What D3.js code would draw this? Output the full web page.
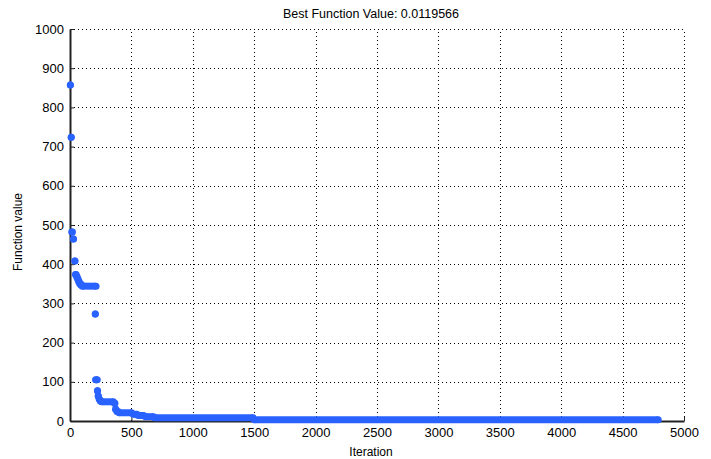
<!DOCTYPE html>
<html>
<head>
<meta charset="utf-8">
<script src="https://cdn.jsdelivr.net/npm/d3@7"></script>
<style>
  body { margin: 0; background: #fff; }
  text { font-family: "Liberation Sans", Arial, sans-serif; fill: #000; }
</style>
</head>
<body>
<div id="chart"></div>
<script>
// runs of iterations that share the same best value
var runStart = [3, 10, 14, 28, 40, 44, 54, 62, 70, 78, 88, 100, 206, 208, 224, 230, 238, 248, 258, 362, 372, 382, 400, 515, 556, 615, 690, 1500];
var runEnd   = [3, 10, 20, 28, 40, 50, 58, 66, 74, 84, 96, 212, 206, 222, 224, 230, 238, 248, 353, 366, 372, 392, 502, 545, 600, 680, 1490, 4790];
var runValue = [857, 724, 482, 464, 408, 374, 368, 362, 356, 351, 347, 344, 273, 105, 77, 64, 56, 51, 49, 45, 30, 24, 21, 17, 14, 11, 8.4, 3];

var xTicks = [0, 500, 1000, 1500, 2000, 2500, 3000, 3500, 4000, 4500, 5000];
var yTicks = [0, 100, 200, 300, 400, 500, 600, 700, 800, 900, 1000];
var titleText = "Best Function Value: 0.0119566";

var margin = { top: 29, right: 27, bottom: 38, left: 70 };
var width = 711 - margin.left - margin.right;
var height = 459 - margin.top - margin.bottom;

var svg = d3.select("#chart")
    .append("svg")
    .attr("width", 711)
    .attr("height", 459)
    .append("g")
    .attr("transform", "translate(" + margin.left + "," + margin.top + ")");

var x = d3.scaleLinear().domain([0, 5000]).range([0, width]);
var y = d3.scaleLinear().domain([0, 1000]).range([height, 0]);

// dotted grid
svg.append("g")
    .attr("class", "grid")
    .call(d3.axisLeft(y).tickValues(yTicks.slice(1)).tickSize(-width).tickFormat(""))
    .call(function (g) { g.select(".domain").remove(); });
svg.append("g")
    .attr("class", "grid")
    .attr("transform", "translate(0," + height + ")")
    .call(d3.axisBottom(x).tickValues(xTicks.slice(1)).tickSize(-height).tickFormat(""))
    .call(function (g) { g.select(".domain").remove(); });
svg.selectAll(".grid line")
    .attr("stroke", "#000")
    .attr("stroke-dasharray", "1,3")
    .attr("shape-rendering", "crispEdges");

// axes, ticks pointing inward
var fmt = d3.format("d");
var yAxis = svg.append("g")
    .call(d3.axisLeft(y).tickValues(yTicks).tickFormat(fmt).tickSizeInner(-4).tickSizeOuter(0).tickPadding(6));
var xAxis = svg.append("g")
    .attr("transform", "translate(0," + height + ")")
    .call(d3.axisBottom(x).tickValues(xTicks).tickFormat(fmt).tickSizeInner(-4).tickSizeOuter(0).tickPadding(7));

[xAxis, yAxis].forEach(function (a) {
    a.select(".domain").attr("stroke", "#222").attr("stroke-width", 2);
    a.selectAll(".tick line").attr("stroke", "#222");
    a.selectAll("text").style("font-size", "13px").attr("fill", "#111");
});

// points
var pts = svg.append("g");
var color = "#2962ff";
var r = 3.5;
runValue.forEach(function (v, i) {
    pts.append("line")
        .attr("x1", x(runStart[i]))
        .attr("x2", x(runEnd[i]))
        .attr("y1", y(v))
        .attr("y2", y(v))
        .attr("stroke", color)
        .attr("stroke-width", 2 * r);
    pts.append("circle").attr("cx", x(runStart[i])).attr("cy", y(v)).attr("r", r).attr("fill", color);
    pts.append("circle").attr("cx", x(runEnd[i])).attr("cy", y(v)).attr("r", r).attr("fill", color);
});

// titles
svg.append("text")
    .attr("x", 301)
    .attr("y", -11)
    .attr("text-anchor", "middle")
    .style("font-size", "12.5px")
    .text(titleText);

svg.append("text")
    .attr("x", 301)
    .attr("y", height + 35)
    .attr("text-anchor", "middle")
    .style("font-size", "12px")
    .text("Iteration");

svg.append("text")
    .attr("transform", "translate(-48," + (232 - margin.top) + ") rotate(-90)")
    .attr("text-anchor", "middle")
    .style("font-size", "12px")
    .text("Function value");
</script>
</body>
</html>
